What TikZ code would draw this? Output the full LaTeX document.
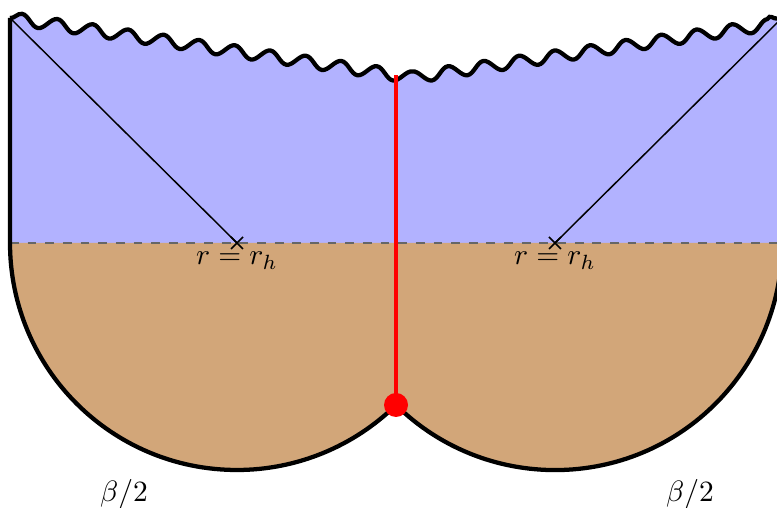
\documentclass[tikz,border=0pt]{standalone}
\usetikzlibrary{decorations.pathmorphing,calc}
\tikzset{
  thickline/.style={line width=1.45pt},
  wavy/.style={decorate,decoration={snake,amplitude=2pt,segment length=12.2pt}},
  crossline/.style={line width=0.5pt},
  lbl/.style={inner sep=0pt,anchor=base}
}
\begin{document}
\begin{tikzpicture}[x=0.34pt,y=0.34pt]
\clip (0,0) rectangle (777,508);
% named points
\coordinate (tl) at (10,490);
\coordinate (tm) at (396,433);
\coordinate (tr) at (782,490);
\coordinate (hl) at (237,265);
\coordinate (hr) at (555,265);
\coordinate (bl) at (10,265);
\coordinate (br) at (782,265);
\coordinate (meet) at (396,103);
% blue region
\fill[blue!30] (bl) -- (tl) decorate[wavy]{ -- (tm) -- (tr)} -- (br) -- cycle;
% brown region
\fill[brown!70] (bl) arc[start angle=180,end angle=314.5,radius=227]
   arc[start angle=225.5,end angle=360,radius=227] -- cycle;
% dashed horizon line
\draw[black!60,dashed,line width=0.6pt] (bl) -- (br);
% thin diagonals
\draw[line width=0.5pt] (tl) -- (hl);
\draw[line width=0.5pt] (tr) -- (hr);
% crosses
\foreach \c in {hl,hr}{
  \draw[crossline] ($(\c)+(-6,-6)$) -- ($(\c)+(6,6)$);
  \draw[crossline] ($(\c)+(-6,6)$) -- ($(\c)+(6,-6)$);
}
% wavy top
\draw[thickline,wavy] (tl) -- (tm) -- (tr);
% walls and arcs
\draw[thickline] (tl) -- (bl) arc[start angle=180,end angle=314.5,radius=227];
\draw[thickline] (meet) arc[start angle=225.5,end angle=360,radius=227] -- (tr);
% red line and dot
\draw[red,thickline] (tm) -- (meet);
\fill[red] (meet) circle[radius=12];
% labels
\node[lbl] (lh1) at (237,243) {$r=r_h$};
\node[lbl] (lh2) at (555,243) {$r=r_h$};
\node (b1) at (124,14) {$\beta/2$};
\node (b2) at (690,14) {$\beta/2$};
\end{tikzpicture}
\end{document}
